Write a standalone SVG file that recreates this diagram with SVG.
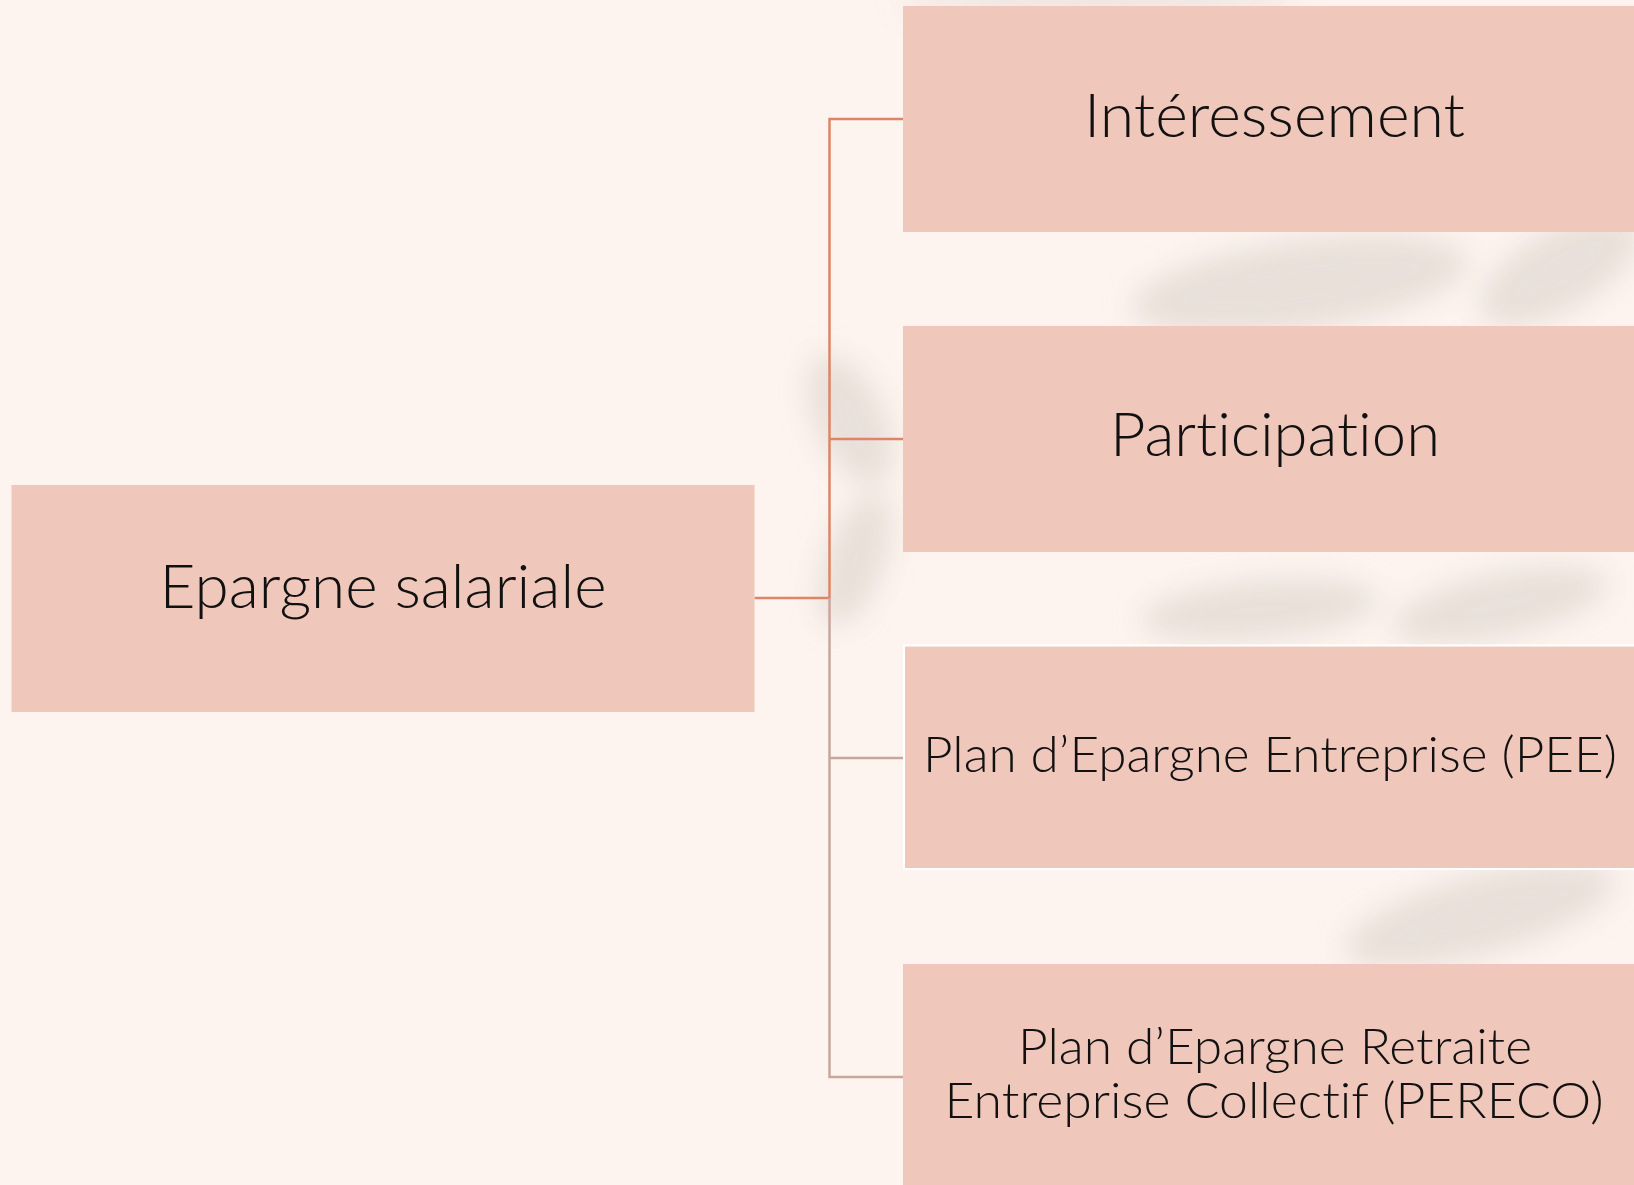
<svg xmlns="http://www.w3.org/2000/svg" width="1634" height="1185" viewBox="0 0 1634 1185">
  <defs>
    <style>
      .box { fill: #F0C7BB; }
      .lbl { font-family: Lato, "Open Sans", "Liberation Sans", sans-serif; font-weight: 300; font-variant-ligatures: none; fill: #111111; text-anchor: middle; }
      .big { font-size: 62px; }
      .small { font-size: 49px; }
      .warm { stroke: #DE8467; stroke-width: 2.5; fill: none; }
      .muted { stroke: #C9A69D; stroke-width: 2.5; fill: none; }
      .leaf { fill: #DCD2CC; opacity: 0.6; }
    </style>
    <filter id="blur" x="-30%" y="-30%" width="160%" height="160%">
      <feGaussianBlur stdDeviation="14"/>
    </filter>
  </defs>
  <rect x="0" y="0" width="1634" height="1185" fill="#FDF4EF"/>
  <g id="leaves" filter="url(#blur)">
    <ellipse class="leaf" cx="1300" cy="285" rx="170" ry="45" transform="rotate(-8 1300 285)"/>
    <ellipse class="leaf" cx="1560" cy="270" rx="90" ry="40" transform="rotate(-30 1560 270)"/>
    <ellipse class="leaf" cx="850" cy="420" rx="35" ry="70" transform="rotate(-25 850 420)"/>
    <ellipse class="leaf" cx="855" cy="560" rx="30" ry="70" transform="rotate(20 855 560)"/>
    <ellipse class="leaf" cx="1260" cy="610" rx="120" ry="30" transform="rotate(-5 1260 610)"/>
    <ellipse class="leaf" cx="1500" cy="605" rx="110" ry="32" transform="rotate(-12 1500 605)"/>
    <ellipse class="leaf" cx="1480" cy="915" rx="140" ry="40" transform="rotate(-15 1480 915)"/>
    <ellipse class="leaf" cx="1100" cy="0" rx="200" ry="12"/>
  </g>
  <g id="connectors">
    <path class="warm" d="M754.5,598 H829.5 M829.5,598 V119 H903 M829.5,439 H903"/>
    <path class="muted" d="M829.5,598 V1077 H903 M829.5,758 H903"/>
  </g>
  <g id="node-epargne">
    <rect class="box" x="11.5" y="485" width="743" height="227"/>
    <text class="lbl big" x="383" y="608" textLength="447" lengthAdjust="spacingAndGlyphs">Epargne salariale</text>
  </g>
  <g id="node-interessement">
    <rect class="box" x="903" y="6" width="740" height="226"/>
    <text class="lbl big" x="1274.5" y="137" textLength="381" lengthAdjust="spacingAndGlyphs">Intéressement</text>
  </g>
  <g id="node-participation">
    <rect class="box" x="903" y="326" width="740" height="226"/>
    <text class="lbl big" x="1275" y="456" textLength="330" lengthAdjust="spacingAndGlyphs">Participation</text>
  </g>
  <g id="node-pee">
    <rect class="box" x="904" y="645.5" width="740" height="223.5" stroke="#FFFFFF" stroke-width="2"/>
    <text class="lbl small" x="1270" y="771.5" textLength="694" lengthAdjust="spacingAndGlyphs">Plan d’Epargne Entreprise (PEE)</text>
  </g>
  <g id="node-pereco">
    <rect class="box" x="903" y="964" width="740" height="230"/>
    <text class="lbl small" x="1275" y="1064" textLength="514" lengthAdjust="spacingAndGlyphs">Plan d’Epargne Retraite</text>
    <text class="lbl small" x="1274" y="1118" textLength="659" lengthAdjust="spacingAndGlyphs">Entreprise Collectif (PERECO)</text>
  </g>
</svg>
